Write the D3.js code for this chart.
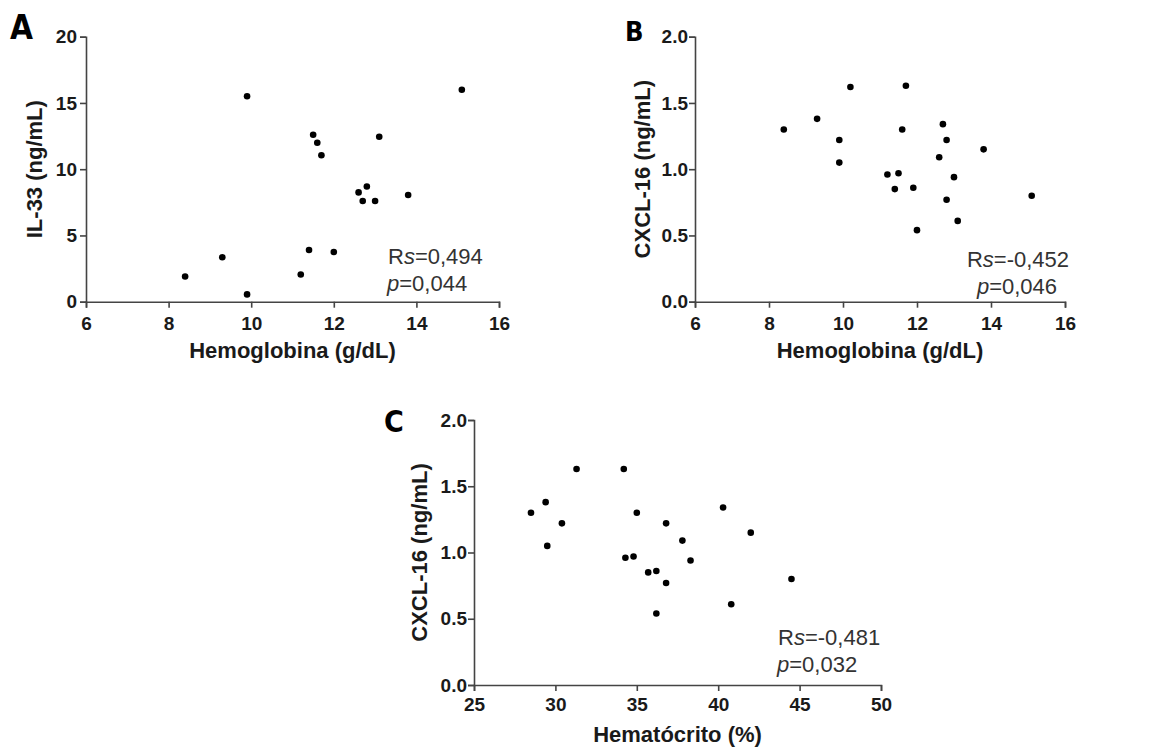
<!DOCTYPE html>
<html>
<head>
<meta charset="utf-8">
<script src="https://cdn.jsdelivr.net/npm/d3@7"></script>
<style>
  body { margin: 0; background: #fff; }
  svg { display: block; }
</style>
</head>
<body>
<div id="chart"></div>
<script>
// Panel A: hemoglobin vs IL-33
var hbA   = [8.4, 9.3, 9.9, 9.9, 11.2, 11.4, 11.5, 11.6, 11.7, 12.0, 12.6, 12.7, 12.8, 13.0, 13.1, 13.8, 15.1];
var il33  = [1.9, 3.35, 15.5, 0.55, 2.05, 3.9, 12.6, 12.0, 11.05, 3.75, 8.25, 7.6, 8.7, 7.6, 12.45, 8.05, 16.0];

// Panel B: hemoglobin vs CXCL-16
var hbB   = [8.4, 9.3, 9.9, 9.9, 10.2, 11.2, 11.4, 11.5, 11.6, 11.7, 11.9, 12.0, 12.6, 12.7, 12.8, 12.8, 13.0, 13.1, 13.8, 15.1];
var cxclB = [1.30, 1.38, 1.22, 1.05, 1.62, 0.96, 0.85, 0.97, 1.30, 1.63, 0.86, 0.54, 1.09, 1.34, 1.22, 0.77, 0.94, 0.61, 1.15, 0.80];

// Panel C: hematocrit vs CXCL-16
var hct   = [28.5, 29.4, 29.5, 30.4, 31.3, 34.2, 34.3, 34.8, 35.0, 35.7, 36.2, 36.2, 36.8, 36.8, 37.8, 38.3, 40.3, 40.8, 42.0, 44.5];
var cxclC = [1.30, 1.38, 1.05, 1.22, 1.63, 1.63, 0.96, 0.97, 1.30, 0.85, 0.86, 0.54, 1.22, 0.77, 1.09, 0.94, 1.34, 0.61, 1.15, 0.80];

var ticksHb   = [6, 8, 10, 12, 14, 16];
var ticksHct  = [25, 30, 35, 40, 45, 50];
var ticksIl   = [0, 5, 10, 15, 20];
var ticksCxcl = [0, 0.5, 1.0, 1.5, 2.0];

var FONT = '"Liberation Sans", Arial, sans-serif';

var svg = d3.select("#chart").append("svg")
  .attr("width", 1163)
  .attr("height", 747);

function drawPanel(p) {
  var x = d3.scaleLinear().domain(p.xDomain).range([p.left, p.right]);
  var y = d3.scaleLinear().domain(p.yDomain).range([p.bottom, p.top]);
  var g = svg.append("g");

  // axes
  var xa = g.append("g")
    .attr("transform", "translate(0," + p.bottom + ")")
    .call(d3.axisBottom(x).tickValues(p.xTicks).tickSizeOuter(0).tickSize(6).tickPadding(p.xPad)
      .tickFormat(d3.format("d")));
  var ya = g.append("g")
    .attr("transform", "translate(" + p.left + ",0)")
    .call(d3.axisLeft(y).tickValues(p.yTicks).tickSizeOuter(0).tickSize(6).tickPadding(p.yPad)
      .tickFormat(d3.format(p.yFmt)));

  [xa, ya].forEach(function (a) {
    a.select(".domain").attr("stroke", "#444").attr("stroke-width", 1.6);
    a.selectAll(".tick line").attr("stroke", "#444").attr("stroke-width", 1.6);
    a.selectAll(".tick text")
      .attr("fill", "#1a1a1a")
      .style("font-family", FONT)
      .style("font-weight", "bold")
      .style("font-size", "19px");
  });

  // points
  g.selectAll("circle.pt")
    .data(p.xs.map(function (v, i) { return [v, p.ys[i]]; }))
    .enter().append("circle")
      .attr("class", "pt")
      .attr("cx", function (d) { return x(d[0]); })
      .attr("cy", function (d) { return y(d[1]); })
      .attr("r", 3.3)
      .attr("fill", "#000");

  // axis titles
  g.append("text")
    .attr("x", (p.left + p.right) / 2)
    .attr("y", p.bottom + p.xTitleOff)
    .attr("text-anchor", "middle")
    .attr("fill", "#1a1a1a")
    .style("font-family", FONT)
    .style("font-weight", "bold")
    .style("font-size", "22px")
    .text(p.xTitle);

  g.append("text")
    .attr("transform", "translate(" + p.yTitleX + "," + ((p.top + p.bottom) / 2) + ") rotate(-90)")
    .attr("text-anchor", "middle")
    .attr("fill", "#1a1a1a")
    .style("font-family", FONT)
    .style("font-weight", "bold")
    .style("font-size", "22px")
    .text(p.yTitle);

  // panel letter
  g.append("text")
    .attr("x", p.letterX)
    .attr("y", p.letterY)
    .attr("fill", "#000")
    .style("font-family", '"Liberation Sans Narrow", "DejaVu Sans Condensed", sans-serif')
    .style("font-weight", "bold")
    .style("font-size", p.letterSize + "px")
    .text(p.letter);

  // statistics
  var st = g.append("text")
    .attr("x", p.statX)
    .attr("y", p.statY)
    .attr("text-anchor", p.statAnchor)
    .attr("fill", "#333")
    .style("font-family", FONT)
    .style("font-size", "22px");
  st.append("tspan").text("R");
  st.append("tspan").style("font-style", "italic").text("s");
  st.append("tspan").text("=" + p.rs);

  var pv = g.append("text")
    .attr("x", p.statX2)
    .attr("y", p.statY + 27)
    .attr("text-anchor", p.statAnchor)
    .attr("fill", "#333")
    .style("font-family", FONT)
    .style("font-size", "22px");
  pv.append("tspan").style("font-style", "italic").text("p");
  pv.append("tspan").text("=" + p.pval);
}

drawPanel({
  left: 86, right: 499, top: 36.7, bottom: 301.7,
  xDomain: [6, 16], yDomain: [0, 20], xTicks: ticksHb, yTicks: ticksIl, yFmt: "d",
  xPad: 9, yPad: 3, xs: hbA, ys: il33,
  xTitle: "Hemoglobina (g/dL)", yTitle: "IL-33 (ng/mL)", xTitleOff: 56, yTitleX: 42,
  letter: "A", letterX: 10, letterY: 39, letterSize: 33,
  rs: "0,494", pval: "0,044", statX: 388, statX2: 387, statY: 264, statAnchor: "start"
});

drawPanel({
  left: 695, right: 1065, top: 36.7, bottom: 301.7,
  xDomain: [6, 16], yDomain: [0, 2], xTicks: ticksHb, yTicks: ticksCxcl, yFmt: ".1f",
  xPad: 9, yPad: 1, xs: hbB, ys: cxclB,
  xTitle: "Hemoglobina (g/dL)", yTitle: "CXCL-16 (ng/mL)", xTitleOff: 56, yTitleX: 650,
  letter: "B", letterX: 625, letterY: 41, letterSize: 27,
  rs: "-0,452", pval: "0,046", statX: 1018, statX2: 1017, statY: 267, statAnchor: "middle"
});

drawPanel({
  left: 474, right: 881, top: 420, bottom: 685,
  xDomain: [25, 50], yDomain: [0, 2], xTicks: ticksHct, yTicks: ticksCxcl, yFmt: ".1f",
  xPad: 7, yPad: 1, xs: hct, ys: cxclC,
  xTitle: "Hematócrito (%)", yTitle: "CXCL-16 (ng/mL)", xTitleOff: 57, yTitleX: 427,
  letter: "C", letterX: 384, letterY: 432, letterSize: 30,
  rs: "-0,481", pval: "0,032", statX: 778, statX2: 777, statY: 645, statAnchor: "start"
});
</script>
</body>
</html>
